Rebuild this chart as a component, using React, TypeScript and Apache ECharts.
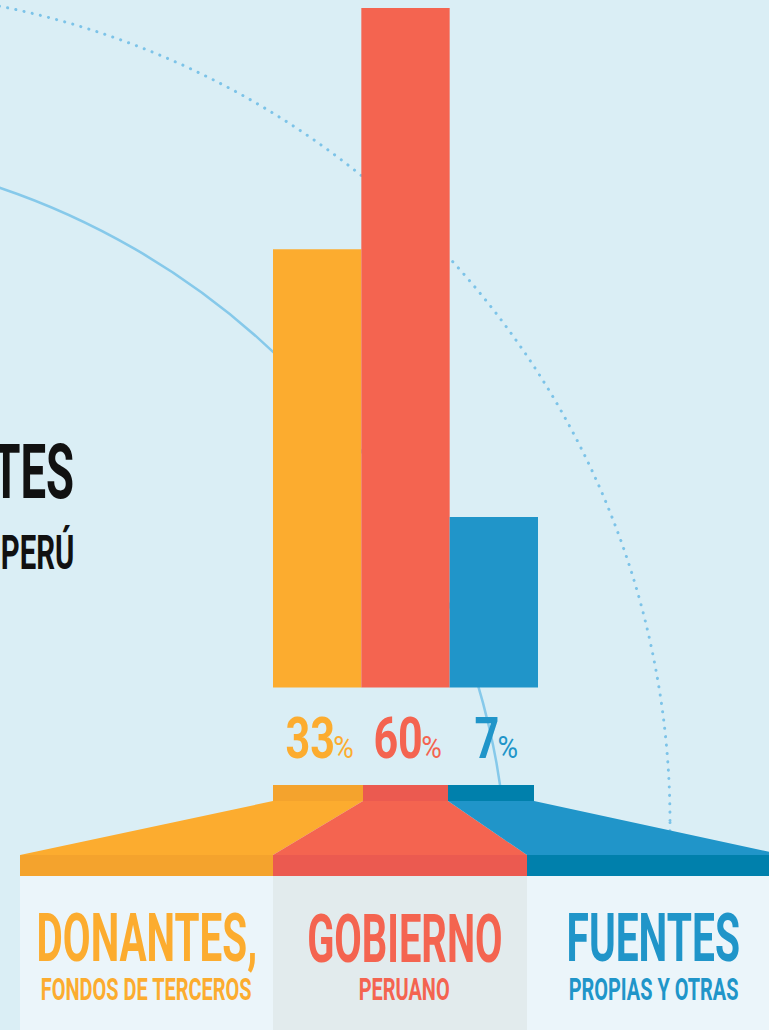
import React, { useEffect, useRef } from 'react';
import * as echarts from 'echarts';

// ---- data ----
const categories = ['DONANTES', 'GOBIERNO', 'FUENTES'];
const barHeights = [64.5, 100, 25.1]; // relative bar heights (red bar = 100)
const shares = [33, 60, 7]; // percentage labels
const titles = ['DONANTES,', 'GOBIERNO', 'FUENTES'];
const subtitles = ['FONDOS DE TERCEROS', 'PERUANO', 'PROPIAS Y OTRAS'];
const headingLines = ['TES', 'PERÚ'];

// ---- styles ----
const mainColors = ['#FCAC2F', '#F46450', '#2095C9'];
const darkColors = ['#F4A32D', '#EB5A50', '#0080AC'];
const panelColors = ['#EBF5FA', '#E2EBED', '#EBF5FA'];
const BG = '#DAEEF5';
const FONT = 'Roboto';

let measureCtx: CanvasRenderingContext2D | null = null;
function ink(text: string, size: number, weight: string) {
  if (!measureCtx) measureCtx = document.createElement('canvas').getContext('2d');
  const ctx = measureCtx as CanvasRenderingContext2D;
  ctx.font = `${weight} ${size}px ${FONT}`;
  const m = ctx.measureText(text);
  const left = m.actualBoundingBoxLeft || 0;
  const right = m.actualBoundingBoxRight || m.width;
  return { left, right, width: left + right };
}

function textEl(text: string, size: number, weight: string, color: string, x: number, y: number, s: number, z: number) {
  return {
    type: 'text',
    z,
    x,
    y,
    scaleX: s,
    silent: true,
    style: {
      text,
      x: 0,
      y: 0,
      fill: color,
      fontSize: size,
      fontWeight: weight,
      fontFamily: FONT,
      align: 'left',
      verticalAlign: 'middle',
      textAlign: 'left',
      textVerticalAlign: 'middle',
    },
  };
}

function fitText(text: string, size: number, weight: string, color: string, left: number, right: number, cy: number, z: number) {
  const m = ink(text, size, weight);
  const s = (right - left) / m.width;
  return { el: textEl(text, size, weight, color, left + s * m.left, cy, s, z), s };
}

export default function App() {
  const ref = useRef<HTMLDivElement>(null);
  useEffect(() => {
    document.body.style.margin = '0';
    if (!ref.current) return;
    const chart = echarts.init(ref.current, undefined, { renderer: 'svg' });

    const graphics: any[] = [];
    // arcs
    graphics.push({
      type: 'circle', z: 0, silent: true,
      shape: { cx: -240, cy: 897, r: 748.6 },
      style: { fill: 'none', stroke: '#86C9EA', lineWidth: 2.5 },
    });
    graphics.push({
      type: 'circle', z: 0, silent: true,
      shape: { cx: -162, cy: 822.4, r: 832 },
      style: { fill: 'none', stroke: '#7CC3E8', lineWidth: 3, lineDash: [0.1, 8.3], lineCap: 'round' },
    });

    // fan: top strips
    const topStrips = [[273, 90], [363, 85], [448, 86]];
    topStrips.forEach(([x, w], i) => {
      graphics.push({ type: 'rect', z: 10, silent: true, shape: { x, y: 785, width: w, height: 16 }, style: { fill: darkColors[i] } });
    });
    const traps = [
      [[273, 801], [363, 801], [273, 855], [20, 855]],
      [[363, 801], [448, 801], [527, 855], [273, 855]],
      [[448, 801], [534, 801], [784, 855], [527, 855]],
    ];
    traps.forEach((pts, i) => {
      graphics.push({ type: 'polygon', z: 10, silent: true, shape: { points: pts }, style: { fill: mainColors[i] } });
    });
    const cols = [[20, 253], [273, 254], [527, 250]];
    cols.forEach(([x, w], i) => {
      graphics.push({ type: 'rect', z: 10, silent: true, shape: { x, y: 855, width: w, height: 21 }, style: { fill: darkColors[i] } });
      graphics.push({ type: 'rect', z: 10, silent: true, shape: { x, y: 876, width: w, height: 160 }, style: { fill: panelColors[i] } });
    });

    // bottom labels
    const titleBox = [[39, 255], [309, 501], [569, 739]];
    const subBox = [[42, 252], [360, 449], [570, 738]];
    let bebasScale = 0.6;
    titles.forEach((t, i) => {
      const r = fitText(t, 66, 'bold', mainColors[i], titleBox[i][0], titleBox[i][1], 938.5, 11);
      if (i === 0) bebasScale = r.s;
      graphics.push(r.el);
    });
    subtitles.forEach((t, i) => {
      const r = fitText(t, 32, 'bold', mainColors[i], subBox[i][0], subBox[i][1], 989, 11);
      graphics.push(r.el);
    });

    // heading (cut off at the left edge, as in the reference)
    const hSizes = [76, 49];
    const hCenters = [472, 552.5];
    headingLines.forEach((t, i) => {
      const m = ink(t, hSizes[i], 'bold');
      const s = bebasScale * 0.98;
      graphics.push(textEl(t, hSizes[i], 'bold', '#111111', 73 - s * m.right, hCenters[i], s, 11));
    });

    const numScale = 47 / ink('33', 58, 'bold').width;
    const pctScale = 19 / ink('%', 31, 'normal').width;

    chart.setOption({
      animation: false,
      backgroundColor: BG,
      grid: { left: 273, right: 231, top: 8, bottom: 342.5 },
      xAxis: {
        type: 'category',
        data: categories,
        axisLine: { show: false },
        axisTick: { show: false },
        axisLabel: { show: false },
        splitLine: { show: false },
      },
      yAxis: {
        type: 'value',
        min: 0,
        max: 100,
        axisLine: { show: false },
        axisTick: { show: false },
        axisLabel: { show: false },
        splitLine: { show: false },
      },
      graphic: { elements: graphics },
      series: [
        {
          type: 'bar',
          z: 2,
          barCategoryGap: '0%',
          data: barHeights.map((v, i) => ({ value: v, itemStyle: { color: mainColors[i] } })),
          silent: true,
        },
        {
          type: 'custom',
          z: 3,
          clip: false,
          silent: true,
          data: shares.map((v, i) => [i, v]),
          encode: { x: 0, y: 1 },
          renderItem: (params: any, api: any) => {
            const i = params.dataIndex;
            const p = api.coord([api.value(0), 0]);
            const num = String(api.value(1));
            const mn = ink(num, 58, 'bold');
            const mp = ink('%', 31, 'normal');
            const numW = mn.width * numScale;
            const pctW = mp.width * pctScale;
            const gap = 1;
            const start = p[0] + 2.5 - (numW + gap + pctW) / 2;
            return {
              type: 'group',
              children: [
                textEl(num, 58, 'bold', mainColors[i], start + numScale * mn.left, p[1] + 50.5, numScale, 3),
                textEl('%', 31, 'normal', mainColors[i], start + numW + gap + pctScale * mp.left, p[1] + 60, pctScale, 3),
              ],
            };
          },
        },
      ],
    });
    return () => chart.dispose();
  }, []);
  return <div ref={ref} style={{ position: 'fixed', left: 0, top: 0, width: 769, height: 1030 }} />;
}
